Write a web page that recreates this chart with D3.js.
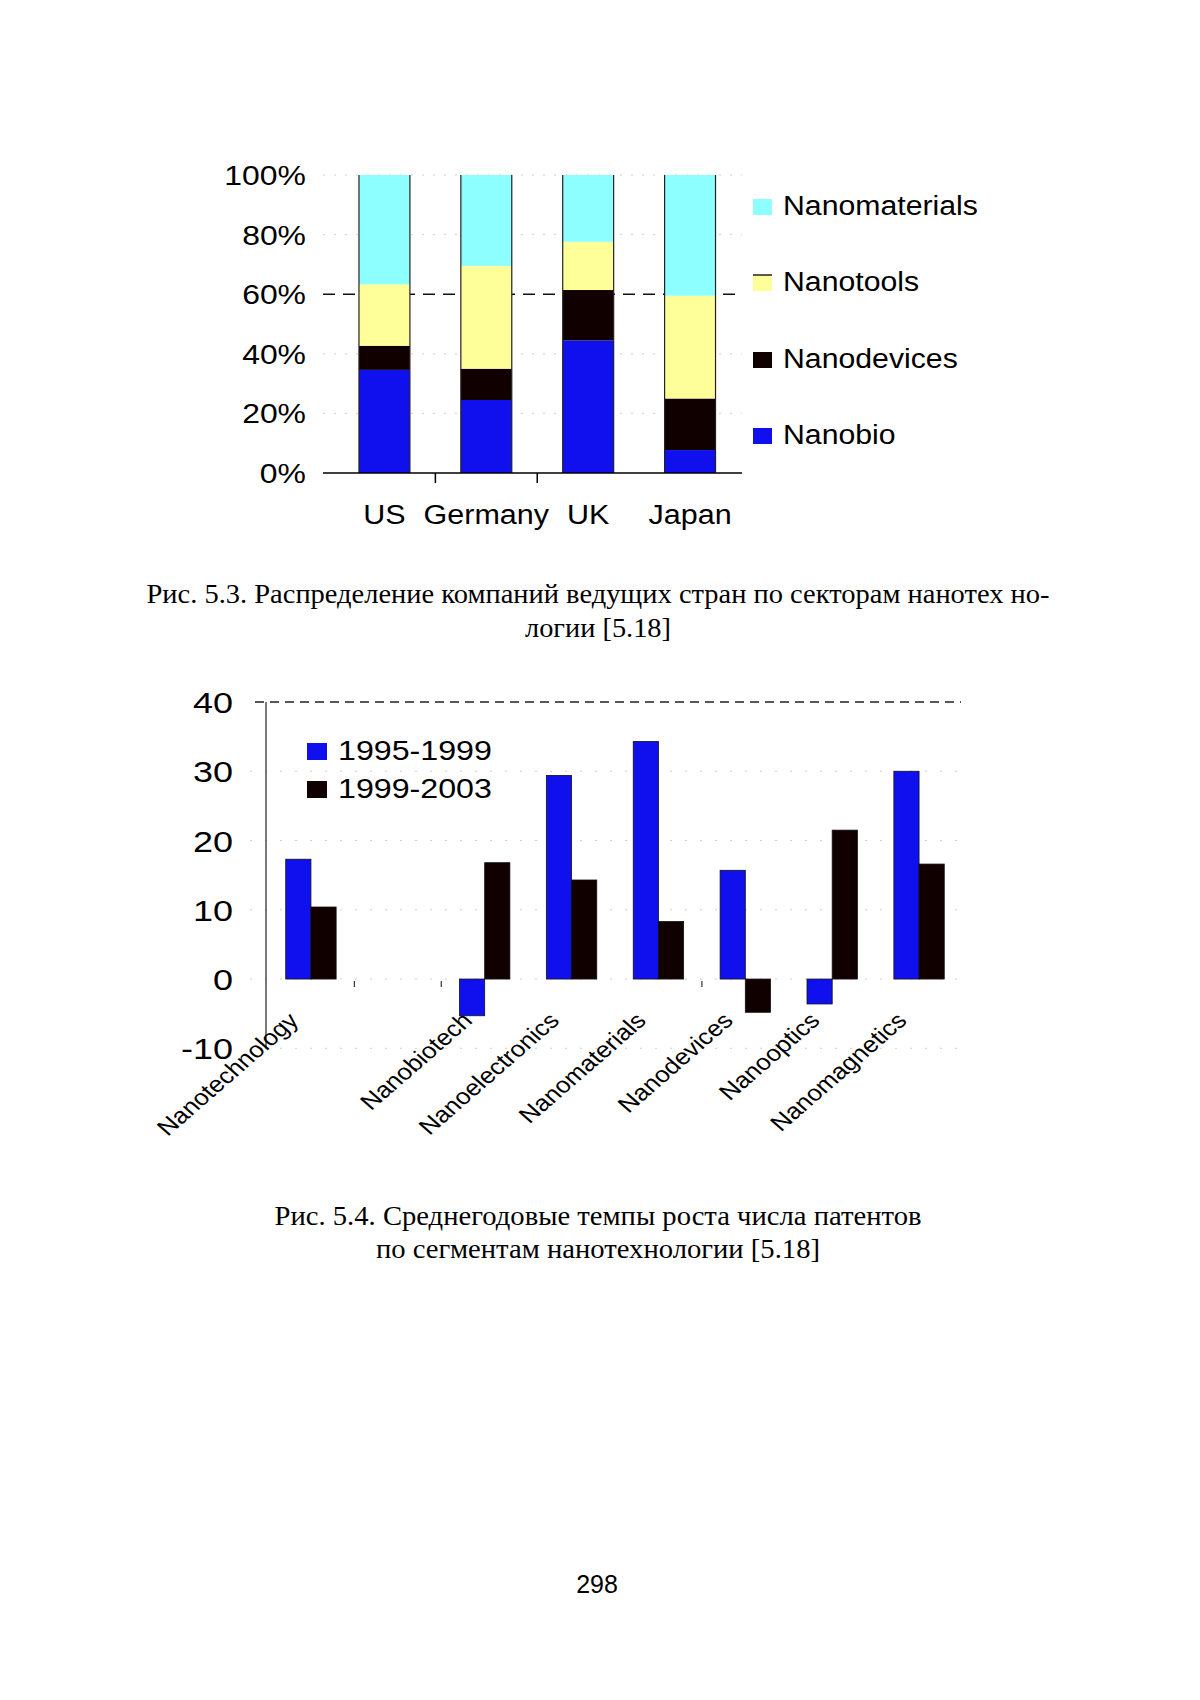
<!DOCTYPE html>
<html>
<head>
<meta charset="utf-8">
<script src="https://cdn.jsdelivr.net/npm/d3@7"></script>
<style>
  body { margin: 0; background: #fff; }
  svg { display: block; }
</style>
</head>
<body>
<div id="page"></div>
<script>
// fig 5.3 - share of companies by sector (percent of total)
var countries = ['US', 'Germany', 'UK', 'Japan'];
var sectors = ['Nanobio', 'Nanodevices', 'Nanotools', 'Nanomaterials'];
var nanobio = [34.6, 24.5, 44.5, 7.7];
var nanodevices = [8.1, 10.5, 16.9, 17.3];
var nanotools = [20.6, 34.5, 16.2, 34.5];
var nanomaterials = [36.7, 30.5, 22.4, 40.5];
var pctTicks = [0, 20, 40, 60, 80, 100];

// fig 5.4 - average yearly growth of patents
var segments = ['Nanotechnology', '', 'Nanobiotech', 'Nanoelectronics', 'Nanomaterials',
  'Nanodevices', 'Nanooptics', 'Nanomagnetics'];
var periods = ['1995-1999', '1999-2003'];
var growth9599 = [17.3, null, -5.3, 29.4, 34.3, 15.7, -3.6, 30.0];
var growth9903 = [10.4, null, 16.8, 14.3, 8.3, -4.8, 21.5, 16.6];
var growthTicks = [-10, 0, 10, 20, 30, 40];

var sectorColor = { 'Nanobio': '#1010ee', 'Nanodevices': '#100000', 'Nanotools': '#ffff99', 'Nanomaterials': '#8effff' };
var periodColor = { '1995-1999': '#1010ee', '1999-2003': '#100000' };

var SANS = '"Liberation Sans", Arial, sans-serif';
var SERIF = '"Liberation Serif", "Times New Roman", serif';

var svg = d3.select('#page').append('svg')
  .attr('width', 1200)
  .attr('height', 1700);

// the scanned figure is a bit wider than normal, so stretch text horizontally
var stext = function(g, x, y, str, size, anchor, sx) {
  return g.append('text')
    .attr('transform', 'translate(' + x + ',' + y + ') scale(' + sx + ',1)')
    .attr('text-anchor', anchor)
    .attr('font-family', SANS)
    .attr('font-size', size)
    .attr('fill', '#000')
    .text(str);
};

var drawTopChart = function() {
  var g = svg.append('g');
  var x = d3.scaleBand().domain(countries).range([333.5, 741]).paddingInner(0.5).paddingOuter(0.25);
  var y = d3.scaleLinear().domain([0, 100]).range([473, 175]);

  // faint dotted grid
  g.selectAll('.grid')
    .data(pctTicks.filter(function(d) { return d != 0 && d != 60; }))
    .enter().append('line')
    .attr('x1', 323).attr('x2', 742)
    .attr('y1', function(d) { return y(d); })
    .attr('y2', function(d) { return y(d); })
    .attr('stroke', '#cfcfcf')
    .attr('stroke-width', 1)
    .attr('stroke-dasharray', '2,9');

  // 60% dashed reference
  g.append('line')
    .attr('x1', 323).attr('x2', 742)
    .attr('y1', y(60)).attr('y2', y(60))
    .attr('stroke', '#111')
    .attr('stroke-width', 1.5)
    .attr('stroke-dasharray', '12,8');

  var series = [nanobio, nanodevices, nanotools, nanomaterials];
  var rows = countries.map(function(c, i) {
    var r = { country: c };
    sectors.forEach(function(s, k) { r[s] = series[k][i]; });
    return r;
  });
  var stacked = d3.stack().keys(sectors)(rows);

  var layers = g.selectAll('.layer')
    .data(stacked)
    .enter().append('g')
    .attr('fill', function(d) { return sectorColor[d.key]; });

  layers.selectAll('rect')
    .data(function(d) { return d; })
    .enter().append('rect')
    .attr('x', function(d) { return x(d.data.country); })
    .attr('width', x.bandwidth())
    .attr('y', function(d) { return y(d[1]); })
    .attr('height', function(d) { return y(d[0]) - y(d[1]); });

  // dark side edges of the bars
  countries.forEach(function(c) {
    [x(c), x(c) + x.bandwidth()].forEach(function(px) {
      g.append('line')
        .attr('x1', px).attr('x2', px)
        .attr('y1', y(100)).attr('y2', y(0))
        .attr('stroke', '#222').attr('stroke-width', 1.2);
    });
  });

  // x axis line and the ticks that are visible
  g.append('line')
    .attr('x1', 323).attr('x2', 742)
    .attr('y1', y(0)).attr('y2', y(0))
    .attr('stroke', '#000').attr('stroke-width', 1.5);
  var step = x.step();
  ['US', 'Germany'].forEach(function(c) {
    var px = x(c) + x.bandwidth() + (step - x.bandwidth()) / 2;
    g.append('line')
      .attr('x1', px).attr('x2', px)
      .attr('y1', y(0)).attr('y2', y(0) + 10)
      .attr('stroke', '#000').attr('stroke-width', 1.5);
  });

  pctTicks.forEach(function(t) {
    stext(g, 306, y(t) + 10, t + '%', 28, 'end', 1.14);
  });
  countries.forEach(function(c) {
    stext(g, x(c) + x.bandwidth() / 2, 524, c, 27, 'middle', 1.13);
  });

  // legend, top to bottom reversed order of stack
  var legY = { 'Nanomaterials': 215, 'Nanotools': 291, 'Nanodevices': 368, 'Nanobio': 444 };
  sectors.forEach(function(s) {
    g.append('rect')
      .attr('x', 753).attr('y', legY[s] - 16)
      .attr('width', 19).attr('height', 16)
      .attr('fill', sectorColor[s]);
    stext(g, 783, legY[s], s, 27, 'start', 1.12);
  });
  g.append('line')
    .attr('x1', 753).attr('x2', 772)
    .attr('y1', legY['Nanotools'] - 16).attr('y2', legY['Nanotools'] - 16)
    .attr('stroke', '#222').attr('stroke-width', 1.5);
};

var drawBottomChart = function() {
  var g = svg.append('g');
  var x0 = d3.scaleBand().domain(segments).range([267.5, 962.5]).paddingInner(0.42).paddingOuter(0.21);
  var x1 = d3.scaleBand().domain(periods).range([0, x0.bandwidth()]);
  var y = d3.scaleLinear().domain([-10, 40]).range([1048.3, 702]);

  g.selectAll('.grid')
    .data(growthTicks.filter(function(d) { return d != 40; }))
    .enter().append('line')
    .attr('x1', 250).attr('x2', 961)
    .attr('y1', function(d) { return y(d); })
    .attr('y2', function(d) { return y(d); })
    .attr('stroke', '#cfcfcf')
    .attr('stroke-width', 1)
    .attr('stroke-dasharray', '2,13');

  g.append('line')
    .attr('x1', 255).attr('x2', 961)
    .attr('y1', y(40)).attr('y2', y(40))
    .attr('stroke', '#222')
    .attr('stroke-width', 1.3)
    .attr('stroke-dasharray', '9,6');

  var values = { '1995-1999': growth9599, '1999-2003': growth9903 };
  var bars = [];
  segments.forEach(function(s, i) {
    periods.forEach(function(p) {
      if (values[p][i] != null) bars.push({ seg: s, period: p, v: values[p][i] });
    });
  });

  g.selectAll('.bar')
    .data(bars)
    .enter().append('rect')
    .attr('x', function(d) { return x0(d.seg) + x1(d.period); })
    .attr('width', x1.bandwidth())
    .attr('y', function(d) { return y(Math.max(0, d.v)); })
    .attr('height', function(d) { return Math.abs(y(d.v) - y(0)); })
    .attr('fill', function(d) { return periodColor[d.period]; })
    .attr('stroke', '#111')
    .attr('stroke-width', 0.8);

  // y axis
  g.append('line')
    .attr('x1', 266).attr('x2', 266)
    .attr('y1', y(40)).attr('y2', y(-10))
    .attr('stroke', '#333').attr('stroke-width', 1.3);

  // the few category ticks still visible
  var step = x0.step();
  [0, 1, 4].forEach(function(i) {
    var px = x0(segments[i]) + x0.bandwidth() + (step - x0.bandwidth()) / 2;
    g.append('line')
      .attr('x1', px).attr('x2', px)
      .attr('y1', y(0) + 2).attr('y2', y(0) + 8)
      .attr('stroke', '#333').attr('stroke-width', 1.2);
  });

  growthTicks.forEach(function(t) {
    stext(g, 233, y(t) + 11, String(t), 30, 'end', 1.2);
  });

  segments.forEach(function(s) {
    if (!s) return;
    var cx = x0(s) + x0.bandwidth() / 2;
    g.append('text')
      .attr('transform', 'translate(' + (cx - 11) + ',1022) scale(1.15,1) rotate(-45)')
      .attr('text-anchor', 'end')
      .attr('font-family', SANS)
      .attr('font-size', 22.5)
      .text(s);
  });

  var legY = { '1995-1999': 760, '1999-2003': 798 };
  periods.forEach(function(p) {
    g.append('rect')
      .attr('x', 307).attr('y', legY[p] - 17)
      .attr('width', 20).attr('height', 17)
      .attr('fill', periodColor[p]);
    stext(g, 338, legY[p], p, 28, 'start', 1.15);
  });
};

var drawCaptions = function() {
  var lines = [
    { t: 'Рис. 5.3. Распределение компаний ведущих стран по секторам нанотех но-', y: 603, w: 903 },
    { t: 'логии [5.18]', y: 637, w: 146 },
    { t: 'Рис. 5.4. Среднегодовые темпы роста числа патентов', y: 1225, w: 647 },
    { t: 'по сегментам нанотехнологии [5.18]', y: 1258, w: 444 }
  ];
  svg.selectAll('.cap')
    .data(lines)
    .enter().append('text')
    .attr('x', 598)
    .attr('y', function(d) { return d.y; })
    .attr('text-anchor', 'middle')
    .attr('font-family', SERIF)
    .attr('font-size', 28)
    .attr('textLength', function(d) { return d.w; })
    .attr('lengthAdjust', 'spacingAndGlyphs')
    .text(function(d) { return d.t; });

  svg.append('text')
    .attr('x', 597).attr('y', 1593)
    .attr('text-anchor', 'middle')
    .attr('font-family', SANS)
    .attr('font-size', 25)
    .text('298');
};

drawTopChart();
drawBottomChart();
drawCaptions();
</script>
</body>
</html>
